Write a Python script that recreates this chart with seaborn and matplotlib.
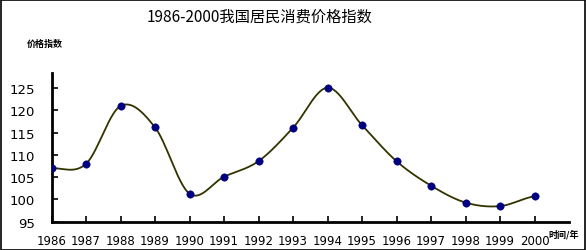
import numpy as np
import pandas as pd
import matplotlib
matplotlib.use("Agg")
import matplotlib.pyplot as plt
import seaborn as sns

years = [1986, 1987, 1988, 1989, 1990, 1991, 1992, 1993, 1994, 1995, 1996, 1997, 1998, 1999, 2000]
cpi = [107.0, 108.0, 121.0, 116.2, 101.3, 105.1, 108.6, 116.1, 125.1, 116.7, 108.6, 103.1, 99.3, 98.5, 100.7]
yticks = [95, 100, 105, 110, 115, 120, 125]
title = "1986-2000我国居民消费价格指数"
ylabel = "价格指数"
xlabel = "时间/年"

sns.set_theme(style="white")
plt.rcParams['font.family'] = ['DejaVu Sans', 'Noto Sans CJK SC']

df = pd.DataFrame({"year": years, "cpi": cpi})

# smooth curve (Catmull-Rom through data points, like Excel "smoothed line")
x = np.array(years, float)
y = np.array(cpi, float)
px = np.concatenate([[2 * x[0] - x[1]], x, [2 * x[-1] - x[-2]]])
py = np.concatenate([[y[0]], y, [y[-1]]])
sx, sy = [], []
t = np.linspace(0, 1, 30)
for i in range(1, len(px) - 2):
    p0, p1, p2, p3 = [np.array([px[j], py[j]]) for j in (i - 1, i, i + 1, i + 2)]
    c1 = p1 + (p2 - p0) / 6
    c2 = p2 - (p3 - p1) / 6
    b = ((1 - t) ** 3)[:, None] * p1 + (3 * (1 - t) ** 2 * t)[:, None] * c1 + \
        (3 * (1 - t) * t ** 2)[:, None] * c2 + (t ** 3)[:, None] * p2
    sx.extend(b[:, 0]); sy.extend(b[:, 1])
smooth = pd.DataFrame({"year": sx, "cpi": sy})

fig = plt.figure(figsize=(5.86, 2.51), dpi=100)
ax = fig.add_axes([51.5 / 586, (251 - 222.7) / 251, (569 - 51.5) / 586, (222.7 - 74) / 251])
sns.lineplot(data=smooth, x="year", y="cpi", ax=ax, color="#333300", linewidth=1.3, sort=False, estimator=None)
sns.scatterplot(data=df, x="year", y="cpi", ax=ax, color="#000080", s=28, edgecolor="#000080", zorder=5)

ax.set_xlim(1986, 2001.0)
ax.set_ylim(95, 95 + (222.7 - 74) / 4.45)
ax.set_xticks(years)
ax.set_xticklabels([str(v) for v in years], fontsize=8.5)
ax.set_yticks(yticks)
ax.set_yticklabels([str(v) for v in yticks], fontsize=9.5)
ax.tick_params(axis='both', direction='in', length=4, width=1.2, color='black', labelcolor='black')
ax.tick_params(axis='x', pad=9, bottom=True)
ax.tick_params(axis='y', pad=12, left=True)
ax.set_xlabel("")
ax.set_ylabel("")
for s in ['top', 'right']:
    ax.spines[s].set_visible(False)
for s in ['left', 'bottom']:
    ax.spines[s].set_color('black')
    ax.spines[s].set_linewidth(2)
ax.grid(False)

fig.text(260 / 586, 1 - 17 / 251, title, ha='center', va='center', fontsize=11,
         family=['Noto Sans CJK SC', 'DejaVu Sans'], color='black')
fig.text(27 / 586, 1 - 44 / 251, ylabel, ha='left', va='center', fontsize=6.5, fontweight='bold',
         family=['Noto Sans CJK SC'], color='black')
fig.text(548 / 586, 1 - 235 / 251, xlabel, ha='left', va='center', fontsize=6.5, fontweight='bold',
         family=['Noto Sans CJK SC', 'DejaVu Sans'], color='black')

border = plt.Rectangle((0.5 / 586, 0.5 / 251), 1 - 1.5 / 586, 1 - 1.5 / 251, transform=fig.transFigure,
                       fill=False, edgecolor='black', linewidth=1.2)
fig.add_artist(border)

fig.savefig("out.png", dpi=100)
